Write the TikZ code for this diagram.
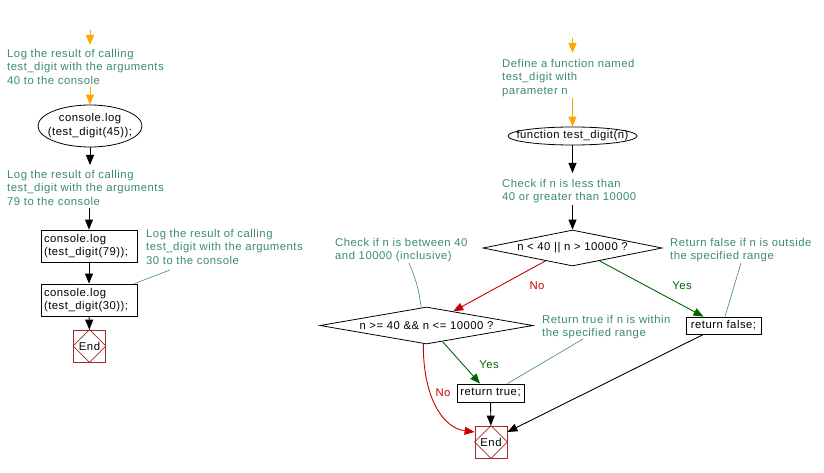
\documentclass[tikz,border=0pt]{standalone}
\usepackage{fontspec}
\setmainfont{Liberation Sans}[LetterSpace=4.5]
\usetikzlibrary{arrows.meta,shapes.geometric,calc}
\definecolor{cmt}{RGB}{58,138,110}
\definecolor{org}{RGB}{255,165,0}
\definecolor{yesg}{RGB}{0,100,0}
\definecolor{nor}{RGB}{204,0,0}
\definecolor{endr}{RGB}{165,40,40}
\begin{document}
\begin{tikzpicture}[x=1pt,y=-1pt,
  every node/.style={font=\fontsize{11.3}{13.5}\selectfont},
  cmtnode/.style={anchor=north west, align=left, inner sep=0pt, text=cmt},
  procbox/.style={draw, line width=0.8pt, rectangle, inner sep=0pt, align=left},
  codebox/.style={procbox, inner xsep=3pt, text width=90pt, minimum height=32pt},
  termel/.style={draw, line width=0.8pt, ellipse, inner sep=0pt},
  decis/.style={draw, line width=0.8pt, diamond, aspect=5, inner sep=0pt},
  endbox/.style={draw=endr, line width=0.8pt, rectangle, minimum width=32pt, minimum height=32pt, inner sep=0pt},
  arr/.style={-{Triangle[length=10pt,width=8pt]}, line width=0.9pt},
  oarr/.style={arr, draw=org},
  garr/.style={arr, draw=yesg},
  rarr/.style={arr, draw=nor},
  cline/.style={draw=cmt, line width=0.6pt},
  lbl/.style={inner sep=0pt}
]
\useasboundingbox (0,0) rectangle (824,473);

% ---------- left column ----------
\coordinate (s1) at (90,30);
\node[cmtnode] (c1) at (7,49) {Log the result of calling\\test\_digit with the arguments\\40 to the console};
\node[termel, minimum width=104pt, minimum height=42pt] (e1) at (90,126)
  {\makebox[0pt]{\begin{tabular}{@{}c@{}}console.log\\(test\_digit(45));\end{tabular}}};
\node[cmtnode] (c2) at (7,170) {Log the result of calling\\test\_digit with the arguments\\79 to the console};
\node[codebox] (b1) at (89,246) {console.log\\(test\_digit(79));};
\node[codebox] (b2) at (89,300) {console.log\\(test\_digit(30));};
\node[cmtnode] (c3) at (146,229) {Log the result of calling\\test\_digit with the arguments\\30 to the console};
\coordinate (c3p) at (170,270);
\node[endbox] (end1) at (89.5,346) {End};
\draw[endr, line width=0.6pt] (end1.north) -- (end1.east) -- (end1.south) -- (end1.west) -- cycle;

\draw[oarr, shorten >=4pt] (s1) -- (c1.north -| s1);
\draw[oarr, shorten <=2.5pt] (c1.south -| e1) -- (e1.north);
\draw[arr, shorten >=5pt] (e1) -- (c2.north -| e1);
\draw[arr, shorten <=2pt] (c2.south -| b1) -- (b1.north);
\draw[arr] (b1) -- (b2);
\draw[arr] (b2) -- (end1);
\draw[cline] ([xshift=-3pt]b2.north east) -- (c3p);

% ---------- right column ----------
\coordinate (s2) at (572.5,38);
\node[cmtnode] (c4) at (502,59) {Define a function named\\test\_digit with\\parameter n};
\node[termel, minimum width=129pt, minimum height=18pt] (e2) at (572.5,136) {\makebox[0pt]{function test\_digit(n)}};
\node[cmtnode] (c5) at (502,179) {Check if n is less than\\40 or greater than 10000};
\node[decis, minimum width=179pt, minimum height=36pt] (d1) at (572.5,248) {n < 40 || n > 10000 ?};
\node[cmtnode] (c6) at (335,238) {Check if n is between 40\\and 10000 (inclusive)};
\coordinate (c6p) at (409,263);
\node[cmtnode] (c7) at (670,238) {Return false if n is outside\\the specified range};
\coordinate (c7p) at (741,263);
\node[decis, minimum width=213pt, minimum height=37pt] (d2) at (426.5,325.5) {n >= 40 \&\& n <= 10000 ?};
\node[procbox, minimum width=75pt, minimum height=17pt] (rf) at (723.5,325.5) {return false;};
\node[cmtnode] (c8) at (542,315) {Return true if n is within\\the specified range};
\coordinate (c8p) at (583,339);
\node[procbox, minimum width=67pt, minimum height=18pt] (rt) at (490.5,393) {return true;};
\node[endbox] (end2) at (491,442) {End};
\draw[endr, line width=0.6pt] (end2.north) -- (end2.east) -- (end2.south) -- (end2.west) -- cycle;

\draw[oarr, shorten >=6pt] (s2) -- (c4.north -| s2);
\draw[oarr, shorten <=1.5pt] (c4.south -| e2) -- (e2.north);
\draw[arr, shorten >=6pt] (e2) -- (c5.north -| e2);
\draw[arr, shorten <=2pt] (c5.south -| d1) -- (d1.north);

\draw[garr] ($(d1.south)!0.3!(d1.east)$) -- ([xshift=-20pt]rf.north);
\node[lbl, text=yesg] (y1) at (682,286) {Yes};
\draw[rarr] ($(d1.south)!0.3!(d1.west)$) -- ($(d2.north)!0.25!(d2.east)$);
\node[lbl, text=nor] (n1) at (537,286) {No};
\draw[cline] (c6p) to[bend left=8] ($(d2.north)!0.05!(d2.west)$);
\draw[cline] (c7p) -- ([xshift=1.5pt]rf.north);
\draw[cline] (c8p) -- ([xshift=-17pt]rt.north east);

\draw[garr] ($(d2.south)!0.15!(d2.east)$) -- ([xshift=-10.5pt]rt.north);
\node[lbl, text=yesg] (y2) at (489,365) {Yes};
\draw[rarr] ($(d2.south)!0.03!(d2.west)$) .. controls (423,398) and (443,428) .. ([yshift=10pt]end2.west);
\node[lbl, text=nor] (n2) at (443,393) {No};
\draw[arr] (rt) -- (end2);
\draw[arr] ([xshift=-20pt]rf.south) -- ([yshift=10pt]end2.east);
\end{tikzpicture}
\end{document}
